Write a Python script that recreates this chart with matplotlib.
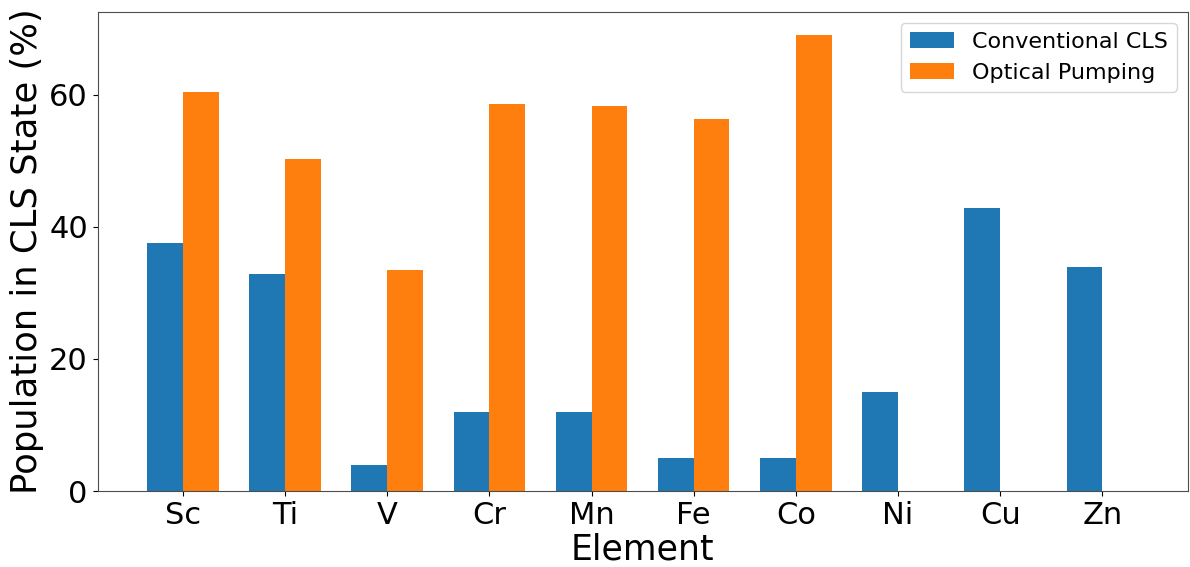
import matplotlib
matplotlib.use("Agg")
import matplotlib.pyplot as plt
from matplotlib.ticker import MultipleLocator
import numpy as np

elements = ["Sc", "Ti", "V", "Cr", "Mn", "Fe", "Co", "Ni", "Cu", "Zn"]
conventional = [37.6, 32.9, 3.9, 12.0, 12.0, 5.0, 5.0, 15.0, 42.9, 33.9]
optical = [60.5, 50.3, 33.5, 58.6, 58.3, 56.4, 69.1, 0, 0, 0]

x = np.arange(len(elements))
width = 0.35

fig, ax = plt.subplots(figsize=(11.9, 5.67), dpi=100)
fig.subplots_adjust(left=0.082, right=0.998, top=0.979, bottom=0.134)

ax.bar(x - width/2, conventional, width, label="Conventional CLS", color="#1f77b4")
ax.bar(x + width/2, optical, width, label="Optical Pumping", color="#ff7f0e")

ax.set_xticks(x)
ax.set_xticklabels(elements)
ax.yaxis.set_major_locator(MultipleLocator(20))
ax.tick_params(axis="both", labelsize=22)
ax.set_xlabel("Element", fontsize=25, labelpad=2)
ax.set_ylabel("Population in CLS State (%)", fontsize=25.5)
for sp in ax.spines.values():
    sp.set_color("0.3")
ax.legend(fontsize=16, loc="upper right")

fig.savefig("out.png")
